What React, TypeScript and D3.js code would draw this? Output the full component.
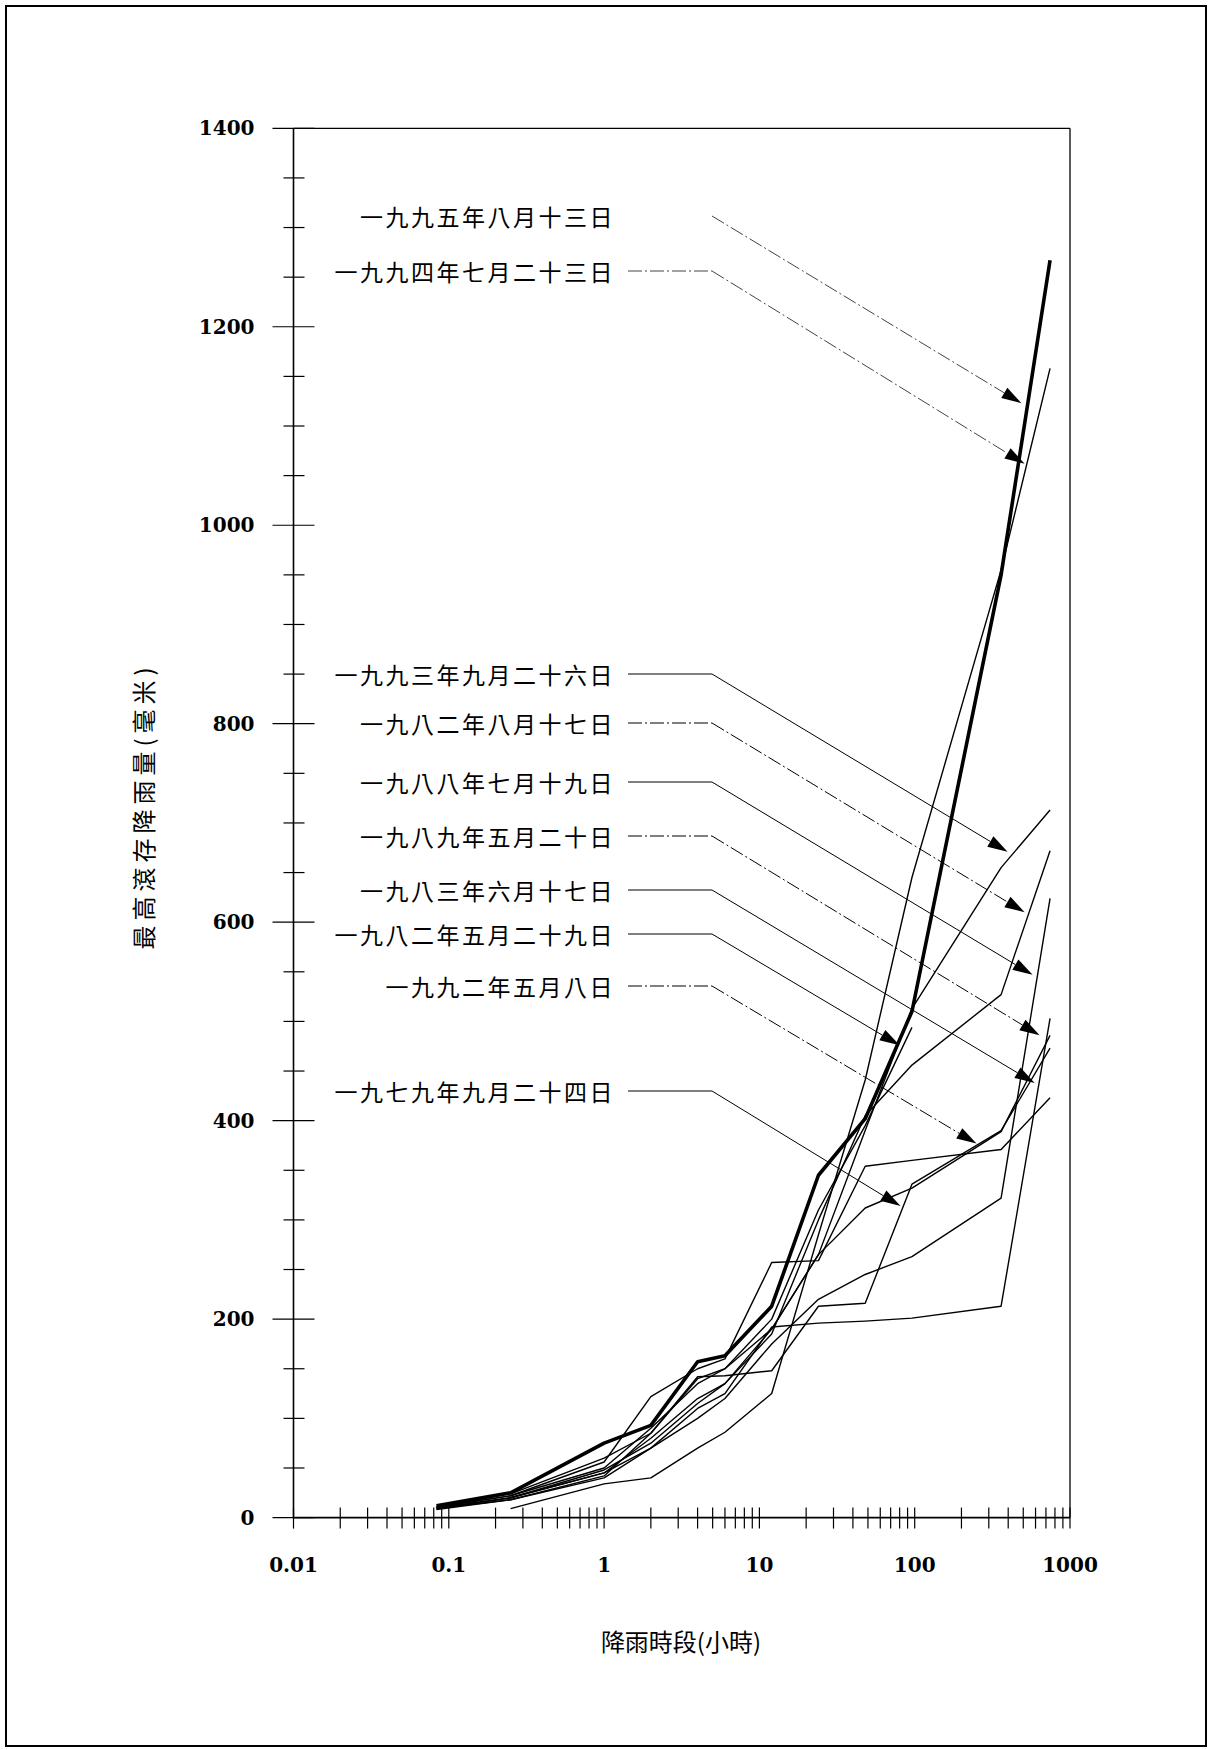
import * as d3 from "d3";

// rainfall durations (hours): 5 min ... 31 days
const DURATIONS = [1 / 12, 0.25, 1, 2, 4, 6, 12, 24, 48, 96, 360, 744];

// maximum rolling rainfall (mm) for each storm
const s1995 = [12, 25, 75, 93, 157, 163, 213, 345, 402, 510, 950, 1267];
const s1994 = [null, 9, 34, 40, 70, 86, 125, 285, 441, 645, 955, 1158];
const s1993 = [11, 22, 50, 90, 135, 150, 190, 265, 390, 513, 655, 713];
const s1982Aug = [10, 20, 48, 75, 115, 135, 185, 300, 405, 456, 527, 672];
const s1988 = [9, 18, 40, 70, 100, 120, 175, 220, 245, 263, 322, 624];
const s1989 = [10, 22, 56, 122, 150, 160, 257, 259, 354, 360, 371, 423];
const s1983 = [9, 20, 45, 70, 110, 125, 192, 196, 198, 201, 213, 503];
const s1982May = [11, 24, 60, 85, 140, 150, 200, 310, 395, 494, null, null];
const s1992 = [9, 20, 45, 80, 120, 135, 190, 265, 312, 332, 389, 486];
const s1979 = [8, 18, 42, 85, 142, 143, 148, 213, 216, 336, 390, 473];

const SERIES = [s1995, s1994, s1993, s1982Aug, s1988, s1989, s1983, s1982May, s1992, s1979];

// annotation labels and the point each arrow touches (hours, mm)
const LABELS = [
  "一九九五年八月十三日",
  "一九九四年七月二十三日",
  "一九九三年九月二十六日",
  "一九八二年八月十七日",
  "一九八八年七月十九日",
  "一九八九年五月二十日",
  "一九八三年六月十七日",
  "一九八二年五月二十九日",
  "一九九二年五月八日",
  "一九七九年九月二十四日",
];
const ARROW_HOURS = [487, 510, 396, 510, 574, 637, 592, 80, 250, 81];
const ARROW_MM = [1123, 1062, 671, 610, 547, 486, 438, 476, 377, 314];

const X_TICK_LABELS = ["0.01", "0.1", "1", "10", "100", "1000"];
const Y_TICK_LABELS = ["0", "200", "400", "600", "800", "1000", "1200", "1400"];

// layout
const W = 1213, H = 1750;
const left = 293.5, right = 1070, top = 128.3, bottom = 1517.6;
const labelY = [218, 273, 676, 725, 784, 838, 892, 936, 988, 1093];
const labelDashed = [true, true, false, true, false, true, false, false, true, false];
const cjk = "'Noto Sans CJK TC', 'Noto Sans CJK SC', sans-serif";
const num = "'DejaVu Serif', serif";

export default function App() {
  const x = d3.scaleLog().domain([0.01, 1000]).range([left, right]);
  const y = d3.scaleLinear().domain([0, 1400]).range([bottom, top]);

  const line = d3
    .line<number | null>()
    .defined((d) => d != null)
    .x((_, i) => x(DURATIONS[i]))
    .y((d) => y(d as number));

  const xTicks: number[] = [];
  [0.01, 0.1, 1, 10, 100].forEach((dec) => {
    d3.range(1, 10).forEach((k) => xTicks.push(dec * k));
  });
  xTicks.push(1000);
  const yTicks = d3.range(0, 1401, 50);

  const textEnd = 615;
  const hStart = 628;
  const bend = 712;

  return (
    <svg width={W} height={H} style={{ position: "absolute", left: 0, top: 0, background: "#fff" }}>
      <rect x={6} y={6} width={1200} height={1740} fill="none" stroke="#000" strokeWidth={2} />

      {/* plot frame */}
      <line x1={left} x2={right} y1={top} y2={top} stroke="#000" strokeWidth={1.3} />
      <line x1={right} x2={right} y1={top} y2={bottom} stroke="#000" strokeWidth={1.3} />
      <line x1={left} x2={left} y1={top} y2={bottom} stroke="#000" strokeWidth={1.6} />
      <line x1={left} x2={right} y1={bottom} y2={bottom} stroke="#000" strokeWidth={1.6} />

      {/* y ticks */}
      {yTicks.map((t) => {
        const major = t % 200 === 0;
        return (
          <line key={"yt" + t} x1={left - (major ? 21 : 10)} x2={left + (major ? 21 : 11)} y1={y(t)} y2={y(t)} stroke="#000" strokeWidth={1.2} />
        );
      })}
      {Y_TICK_LABELS.map((s) => (
        <text key={"yl" + s} x={left - 39} y={y(+s)} dy="0.35em" textAnchor="end" fontFamily={num} fontWeight="bold" fontSize={20}>
          {s}
        </text>
      ))}

      {/* x ticks */}
      {xTicks.map((t, i) => (
        <line key={"xt" + i} x1={x(t)} x2={x(t)} y1={bottom - 10} y2={bottom + 11} stroke="#000" strokeWidth={1.2} />
      ))}
      {X_TICK_LABELS.map((s) => (
        <text key={"xl" + s} x={x(+s)} y={bottom + 54} textAnchor="middle" fontFamily={num} fontWeight="bold" fontSize={20}>
          {s}
        </text>
      ))}

      {/* axis titles */}
      <text x={681} y={1643} dy="0.35em" textAnchor="middle" fontFamily={cjk} fontSize={24}>
        降雨時段(小時)
      </text>
      <text
        transform={`translate(145,806) rotate(-90)`}
        dy="0.35em"
        textAnchor="middle"
        fontFamily={cjk}
        fontSize={24}
        letterSpacing={5}
      >
        最高滾存降雨量(毫米)
      </text>

      {/* series */}
      {SERIES.map((s, i) => (
        <path key={"s" + i} d={line(s) || ""} fill="none" stroke="#000" strokeWidth={i === 0 ? 3.6 : 1.4} strokeLinejoin="round" />
      ))}

      {/* annotations */}
      {LABELS.map((lab, i) => {
        const ly = labelY[i];
        const tx = x(ARROW_HOURS[i]);
        const ty = y(ARROW_MM[i]);
        const ang = Math.atan2(ty - ly, tx - bend);
        const len = 20, hw = 6;
        const bx = tx - len * Math.cos(ang), by = ty - len * Math.sin(ang);
        const p1 = [bx + hw * Math.sin(ang), by - hw * Math.cos(ang)];
        const p2 = [bx - hw * Math.sin(ang), by + hw * Math.cos(ang)];
        const dash = labelDashed[i] ? "14,3,2,3" : undefined;
        const col = i < 2 ? "#444" : "#000";
        return (
          <g key={"a" + i}>
            <text x={textEnd} y={ly} dy="0.36em" textAnchor="end" fontFamily={cjk} fontSize={23} letterSpacing={2.5}>
              {lab}
            </text>
            {i !== 0 && (
              <line x1={hStart} x2={bend} y1={ly - 2} y2={ly - 2} stroke={col} strokeWidth={1} strokeDasharray={dash} />
            )}
            <line x1={bend} y1={ly - 2} x2={bx} y2={by} stroke={col} strokeWidth={1} strokeDasharray={dash} />
            <polygon points={`${tx},${ty} ${p1[0]},${p1[1]} ${p2[0]},${p2[1]}`} fill="#000" />
          </g>
        );
      })}
    </svg>
  );
}
